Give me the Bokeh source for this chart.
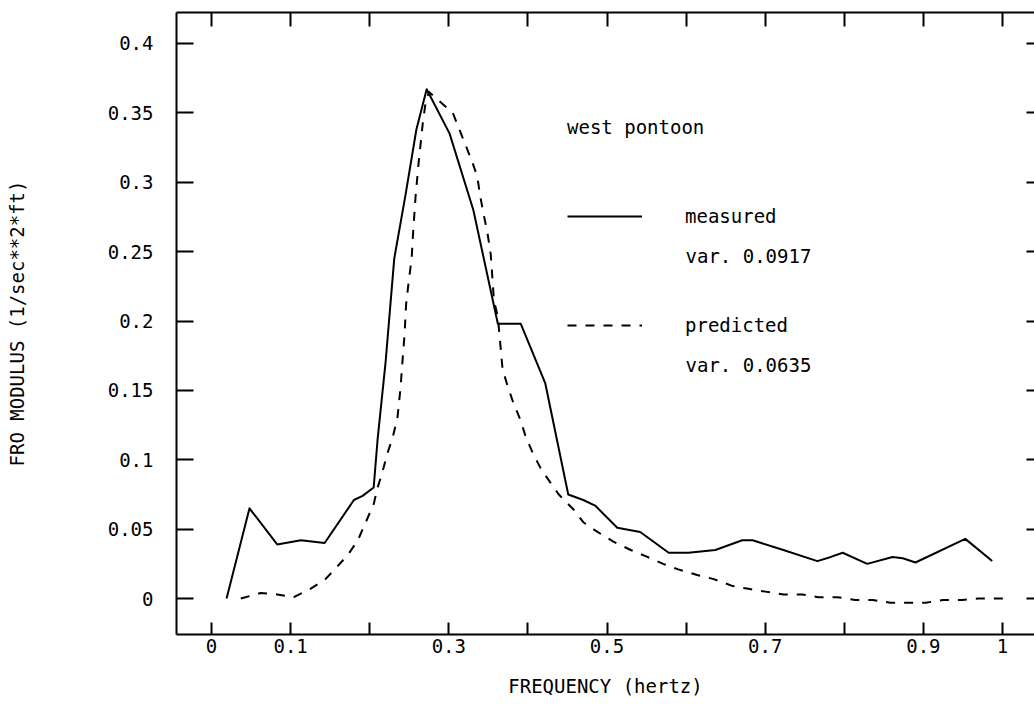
from bokeh.plotting import figure
from bokeh.models import (LinearAxis, FixedTicker, CustomJSTickFormatter, Legend,
                          LegendItem, Label, Range1d)
from bokeh.embed import file_html
from bokeh.resources import INLINE

# ---------------- data ----------------
measured_freq = [0.019, 0.048, 0.083, 0.113, 0.143, 0.180, 0.191, 0.205, 0.210, 0.220,
                 0.231, 0.245, 0.259, 0.272, 0.301, 0.331, 0.362, 0.391, 0.422, 0.451,
                 0.470, 0.485, 0.513, 0.542, 0.578, 0.603, 0.637, 0.671, 0.684, 0.723,
                 0.766, 0.783, 0.798, 0.829, 0.861, 0.874, 0.890, 0.953, 0.987]
measured_mod = [0.000, 0.065, 0.039, 0.042, 0.040, 0.071, 0.074, 0.080, 0.115, 0.170,
                0.245, 0.290, 0.338, 0.367, 0.335, 0.280, 0.198, 0.198, 0.155, 0.075,
                0.071, 0.067, 0.051, 0.048, 0.033, 0.033, 0.035, 0.042, 0.042, 0.035,
                0.027, 0.030, 0.033, 0.025, 0.030, 0.029, 0.026, 0.043, 0.027]

predicted_freq = [0.037, 0.062, 0.083, 0.104, 0.125, 0.144, 0.159, 0.173, 0.185, 0.195,
                  0.205, 0.210, 0.216, 0.222, 0.229, 0.235, 0.239, 0.241, 0.244, 0.246,
                  0.249, 0.253, 0.255, 0.258, 0.262, 0.267, 0.271, 0.275, 0.287, 0.305,
                  0.312, 0.321, 0.330, 0.336, 0.340, 0.344, 0.349, 0.353, 0.355, 0.357,
                  0.362, 0.365, 0.368, 0.375, 0.381, 0.391, 0.397, 0.406, 0.416, 0.429,
                  0.439, 0.458, 0.470, 0.488, 0.508, 0.530, 0.551, 0.571, 0.590, 0.614,
                  0.635, 0.659, 0.679, 0.700, 0.723, 0.747, 0.767, 0.791, 0.814, 0.836,
                  0.858, 0.881, 0.903, 0.925, 0.949, 0.970, 0.994, 1.001]
predicted_mod = [0.000, 0.004, 0.003, 0.001, 0.007, 0.014, 0.023, 0.032, 0.042, 0.055,
                 0.068, 0.080, 0.091, 0.104, 0.116, 0.130, 0.152, 0.168, 0.190, 0.212,
                 0.227, 0.245, 0.265, 0.290, 0.315, 0.342, 0.359, 0.365, 0.359, 0.350,
                 0.340, 0.327, 0.314, 0.304, 0.289, 0.277, 0.263, 0.248, 0.232, 0.215,
                 0.203, 0.184, 0.165, 0.152, 0.142, 0.128, 0.117, 0.105, 0.094, 0.083,
                 0.075, 0.064, 0.055, 0.048, 0.041, 0.035, 0.030, 0.025, 0.021, 0.017,
                 0.014, 0.009, 0.007, 0.005, 0.003, 0.003, 0.001, 0.001, -0.001, -0.001,
                 -0.003, -0.003, -0.003, -0.001, -0.001, 0.000, 0.000, 0.000]

x_tick_values = [0.0, 0.1, 0.3, 0.5, 0.7, 0.9, 1.0]
x_minor_values = [0.2, 0.4, 0.6, 0.8]
y_tick_values = [0.0, 0.05, 0.1, 0.15, 0.2, 0.25, 0.3, 0.35, 0.4]

series_names = ["measured", "predicted"]
variance_texts = ["var. 0.0917", "var. 0.0635"]
legend_title = "west pontoon"
x_label = "FREQUENCY (hertz)"
y_label = "FRO MODULUS (1/sec**2*ft)"

# ---------------- styling ----------------
FONT = "DejaVu Sans Mono"
FS = "19px"
INK = "#000000"

p = figure(width=1034, height=708, output_backend="svg", toolbar_location=None,
           x_range=Range1d(-0.0443, 1.0405), y_range=Range1d(-0.0259, 0.4223),
           x_axis_location=None, y_axis_location=None)
p.min_border = 0
p.min_border_left = 176
p.min_border_right = 0
p.min_border_top = 12
p.min_border_bottom = 74
p.outline_line_color = None
p.grid.grid_line_color = None
p.background_fill_color = "white"
p.border_fill_color = "white"

fmt = CustomJSTickFormatter(code="return String(Math.round(tick*100)/100)")


def style_axis(ax, tick_in, show_labels=True):
    ax.axis_line_color = INK
    ax.axis_line_width = 2
    ax.major_tick_line_color = INK
    ax.major_tick_line_width = 2
    ax.major_tick_in = tick_in
    ax.major_tick_out = 0
    ax.minor_tick_line_color = INK
    ax.minor_tick_line_width = 2
    ax.minor_tick_in = tick_in
    ax.minor_tick_out = 0
    ax.major_label_text_font = FONT
    ax.axis_label_text_font = FONT
    ax.axis_label_text_font_size = FS
    ax.axis_label_text_font_style = "normal"
    ax.axis_label_text_color = INK
    if show_labels:
        ax.major_label_text_font_size = FS
        ax.major_label_text_color = INK
    else:
        ax.major_label_text_font_size = "0px"
        ax.major_label_text_color = None
        ax.major_label_standoff = 0


x_ticker = FixedTicker(ticks=x_tick_values, minor_ticks=x_minor_values)
y_ticker = FixedTicker(ticks=y_tick_values, minor_ticks=[])

xb = LinearAxis(ticker=x_ticker, formatter=fmt, axis_label=x_label)
style_axis(xb, 12)
xb.major_label_standoff = 4
xb.axis_label_standoff = 19
p.add_layout(xb, "below")

xt = LinearAxis(ticker=x_ticker, formatter=fmt)
style_axis(xt, 14, show_labels=False)
p.add_layout(xt, "above")

yl = LinearAxis(ticker=y_ticker, formatter=fmt, axis_label=y_label)
style_axis(yl, 17)
yl.major_label_standoff = 23
yl.axis_label_standoff = 77
p.add_layout(yl, "left")

yr = LinearAxis(ticker=y_ticker, formatter=fmt)
style_axis(yr, 8, show_labels=False)
yr.axis_line_color = None
p.add_layout(yr, "right")

solid = p.line(measured_freq, measured_mod, line_color=INK, line_width=2,
               line_join="round")
dashed = p.line(predicted_freq, predicted_mod, line_color=INK, line_width=2,
                line_dash="9 9", line_join="round")

legend = Legend(items=[LegendItem(label=series_names[0], renderers=[solid]),
                       LegendItem(label=series_names[1], renderers=[dashed])],
                location=(391, 298), title=legend_title)
legend.padding = 0
legend.margin = 0
legend.border_line_color = None
legend.background_fill_alpha = 0
legend.title_text_font = FONT
legend.title_text_font_size = FS
legend.title_text_font_style = "normal"
legend.title_text_color = INK
legend.title_standoff = 67
legend.label_text_font = FONT
legend.label_text_font_size = FS
legend.label_text_color = INK
legend.glyph_width = 75
legend.glyph_height = 22
legend.label_height = 22
legend.label_standoff = 43
legend.spacing = 87
p.add_layout(legend)

for txt, yv in zip(variance_texts, [0.2465, 0.1680]):
    p.add_layout(Label(x=0.5993, y=yv, text=txt, text_font=FONT, text_font_size=FS,
                       text_color=INK, text_baseline="alphabetic", text_align="left"))

open("out.html", "w").write(file_html(p, INLINE))
